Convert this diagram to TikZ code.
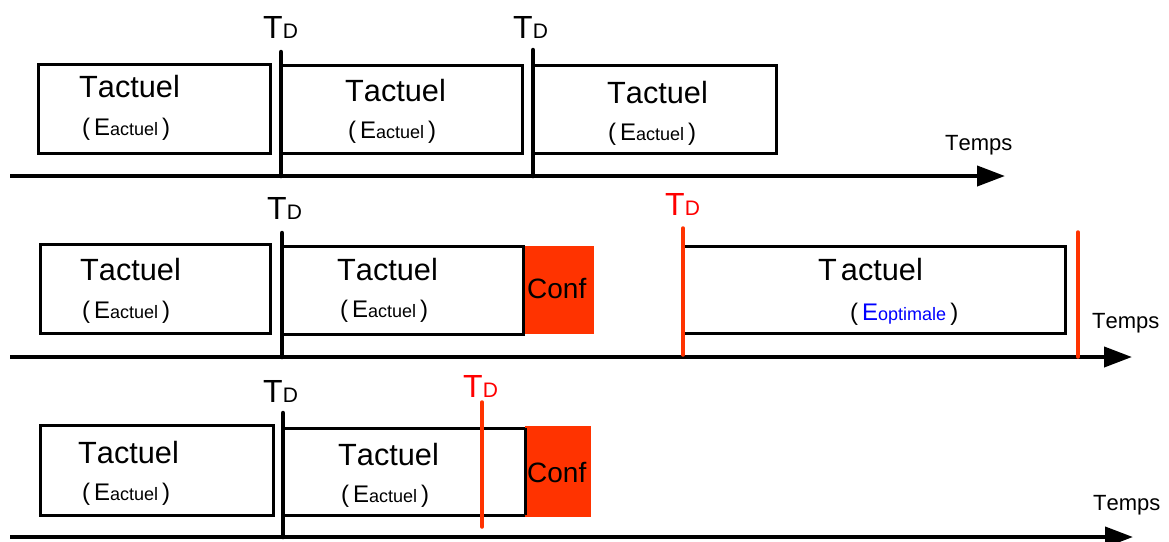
\documentclass[tikz,border=0pt]{standalone}
\usepackage{fontspec}
\setmainfont[Kerning=Off]{Liberation Sans}
\usetikzlibrary{arrows.meta}
\usetikzlibrary{positioning}
\definecolor{confred}{HTML}{FF3300}
\definecolor{tdred}{HTML}{FF0000}
\newcommand{\fsz}[1]{\fontsize{#1}{#1}\selectfont}
\newcommand{\tdlab}{{\fsz{32}T}{\fsz{21}D}}
\newcommand{\tact}{{\fsz{30.7}Tactuel}}
\newcommand{\eact}{{\fsz{24}(\,E}{\fsz{18}actuel}{\fsz{24}\,)}}

\begin{document}
\begin{tikzpicture}[x=1pt,y=-1pt,
    box/.style={draw, line width=3pt},
    conf/.style={fill=confred, draw=none},
    cut/.style={line width=4.5pt, line cap=round},
    redcut/.style={draw=confred, line width=3.5pt, line cap=round},
    axis/.style={line width=4pt, -{Triangle[length=28pt,width=20pt]}},
    txt/.style={anchor=base west, inner sep=0pt}]
        \useasboundingbox (0,0) rectangle (1169,541);
        % Row 1
        \foreach \xa/\ya/\xb/\yb in {38/64/270/153, 281/65/522/153, 533/65/776/153}
            \draw[box] (\xa,\ya) rectangle (\xb,\yb);
        \coordinate (a1s) at (10,176);
        \coordinate (a1e) at (1005,176);
        \draw[axis] (a1s) -- (a1e);
        \coordinate (c11) at (281,52);
        \coordinate (c12) at (533,50);
        \draw[cut] (c11) -- (c11 |- a1s);
        \draw[cut] (c12) -- (c12 |- a1s);
        \node[txt] (d11) at (263,38) {\tdlab};
        \node[txt] (d12) at (513,38) {\tdlab};
        \node[txt] (t11) at (79,97) {\tact};
        \node[txt] (t12) at (345,101) {\tact};
        \node[txt] (t13) at (607,103) {\tact};
        \node[txt] (e11) at (82,135) {\eact};
        \node[txt] (e12) at (348,138) {\eact};
        \node[txt] (e13) at (608,140) {\eact};
        \node[txt] (temps1) at (945,150) {\fsz{22}Temps};
        % Row 2
        \foreach \xa/\ya/\xb/\yb in {40/244/270/333, 282/246/523/334, 683/246/1065/333}
            \draw[box] (\xa,\ya) rectangle (\xb,\yb);
        \fill[conf] (523,246) rectangle (594,334);
        \draw[box] (523,246) -- (523,334);
        \coordinate (a2s) at (10,357);
        \coordinate (a2e) at (1132,357);
        \draw[axis] (a2s) -- (a2e);
        \coordinate (c21) at (282,233);
        \coordinate (c22) at (683,228);
        \coordinate (c23) at (1078,232);
        \draw[cut] (c21) -- (c21 |- a2s);
        \draw[redcut] (c22) -- ([yshift=2pt]c22 |- a2s);
        \draw[redcut] (c23) -- (c23 |- a2s);
        \node[txt] (d21) at (267,219) {\tdlab};
        \node[txt, text=tdred] (d22) at (665,215) {\tdlab};
        \node[txt] (t21) at (80,280) {\tact};
        \node[txt] (t22) at (337,280) {\tact};
        \node[txt] (t23) at (818,280) {\fsz{30.7}T\hspace{4pt}actuel};
        \node[txt] (e21) at (82,318) {\eact};
        \node[txt] (e22) at (340,317) {\eact};
        \node[txt] (e23) at (850,320) {{\fsz{24}(\,\textcolor{blue}{E}}{\fsz{18}\textcolor{blue}{optimale}}{\fsz{24}\,)}};
        \node[txt] (conf2) at (527,298) {\fsz{28}Conf};
        \node[txt] (temps2) at (1092,328) {\fsz{22}Temps};
        % Row 3
        \foreach \xa/\ya/\xb/\yb in {40/425/273/515, 283/428/525/515}
            \draw[box] (\xa,\ya) rectangle (\xb,\yb);
        \fill[conf] (525,426) rectangle (591,517);
        \draw[box] (525,428) -- (525,515);
        \coordinate (a3s) at (10,537);
        \coordinate (a3e) at (1133,537);
        \draw[axis] (a3s) -- (a3e);
        \coordinate (c31) at (283,413);
        \coordinate (c32) at (482,402);
        \draw[cut] (c31) -- (c31 |- a3s);
        \draw[redcut] (c32) -- (482,527);
        \node[txt] (d31) at (263,402) {\tdlab};
        \node[txt, text=tdred] (d32) at (463,397) {\tdlab};
        \node[txt] (t31) at (78,463) {\tact};
        \node[txt] (t32) at (338,465) {\tact};
        \node[txt] (e31) at (82,500) {\eact};
        \node[txt] (e32) at (341,502) {\eact};
        \node[txt] (conf3) at (527,482) {\fsz{28}Conf};
        \node[txt] (temps3) at (1093,510) {\fsz{22}Temps};
\end{tikzpicture}
\end{document}
